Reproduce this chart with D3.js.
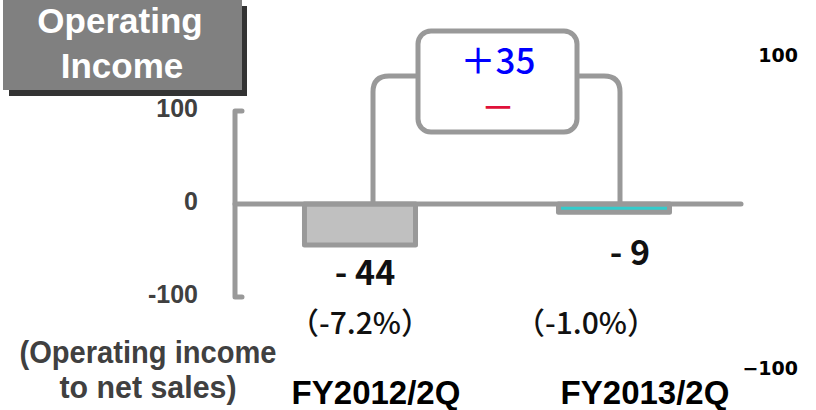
<!DOCTYPE html>
<html>
<head>
<meta charset="utf-8">
<script src="https://cdn.jsdelivr.net/npm/d3@7"></script>
<style>
  html, body { margin: 0; padding: 0; background: #fff; }
  svg { display: block; }
</style>
</head>
<body>
<svg id="chart" width="816" height="410"></svg>
<script>
// Operating income, half-year comparison
const categories = ["FY2012/2Q", "FY2013/2Q"];
const values = [-44, -9];
const valueLabels = ["- 44", "- 9"];
const ratioLabels = ["（-7.2%）", "（-1.0%）"];
const yTicks = [100, 0, -100];
const rightTicks = [100, -100];
const rightTickLabels = ["100", "−100"];
const changeLabel = "＋35";
const barFills = ["#c0c0c0", "#33cccc"];

const svg = d3.select("#chart");
const grey = "#999999";

// Scales
const y = d3.scaleLinear().domain([-100, 100]).range([297, 111]);
const x = d3.scaleBand().domain(categories).range([233, 741])
  .paddingInner(0.555).paddingOuter(0.2775);
const yRight = d3.scaleLinear().domain([-100, 100]).range([368, 55]);

// Title box with drop shadow
svg.append("rect").attr("x", 9).attr("y", 6).attr("width", 238).attr("height", 90).attr("fill", "#333333");
svg.append("rect").attr("x", 3).attr("y", -2).attr("width", 239).attr("height", 92).attr("fill", "#808080");
svg.append("text").attr("x", 120).attr("y", 33).attr("text-anchor", "middle")
  .attr("font-family", "Liberation Sans, Arial, sans-serif").attr("font-weight", "bold")
  .attr("font-size", 35).attr("fill", "#ffffff").text("Operating");
svg.append("text").attr("x", 122).attr("y", 78).attr("text-anchor", "middle")
  .attr("font-family", "Liberation Sans, Arial, sans-serif").attr("font-weight", "bold")
  .attr("font-size", 35).attr("fill", "#ffffff").text("Income");

// Left axis: bracket-shaped line with labels
const axisX = 235;
svg.append("path")
  .attr("d", `M${axisX + 7},${y(100)} H${axisX} V${y(-100)} H${axisX + 7}`)
  .attr("fill", "none").attr("stroke", grey).attr("stroke-width", 5)
  .attr("stroke-linejoin", "round").attr("stroke-linecap", "round");

svg.selectAll("text.ytick").data(yTicks).enter().append("text")
  .attr("class", "ytick")
  .attr("x", 198).attr("y", d => y(d) - 3)
  .attr("dy", "0.35em").attr("text-anchor", "end")
  .attr("font-family", "Liberation Sans, Arial, sans-serif").attr("font-weight", "bold")
  .attr("font-size", 25).attr("fill", "#404040")
  .text(d => d);

// Bars
svg.selectAll("rect.bar").data(values).enter().append("rect")
  .attr("class", "bar")
  .attr("x", (d, i) => x(categories[i]) + 1)
  .attr("width", x.bandwidth() - 2)
  .attr("y", d => y(Math.max(0, d)))
  .attr("height", d => Math.abs(y(d) - y(0)))
  .attr("fill", (d, i) => barFills[i])
  .attr("stroke", grey).attr("stroke-width", 5)
  .attr("stroke-linejoin", "round");

// Zero line
svg.append("line")
  .attr("x1", axisX).attr("x2", 741).attr("y1", y(0)).attr("y2", y(0))
  .attr("stroke", grey).attr("stroke-width", 5).attr("stroke-linecap", "round");

// Change bracket linking the two bars
const cx0 = x(categories[0]) + x.bandwidth() / 2 + 13;
const cx1 = x(categories[1]) + x.bandwidth() / 2 + 6;
const boxX0 = 418, boxX1 = 577, boxY0 = 31, boxY1 = 132;
const linkY = 76, r = 16;
svg.append("path")
  .attr("d", `M${cx0},${y(0)} V${linkY + r} Q${cx0},${linkY} ${cx0 + r},${linkY} H${boxX0}`)
  .attr("fill", "none").attr("stroke", grey).attr("stroke-width", 5);
svg.append("path")
  .attr("d", `M${boxX1},${linkY} H${cx1 - r} Q${cx1},${linkY} ${cx1},${linkY + r} V${y(0)}`)
  .attr("fill", "none").attr("stroke", grey).attr("stroke-width", 5);
svg.append("rect")
  .attr("x", boxX0).attr("y", boxY0).attr("width", boxX1 - boxX0).attr("height", boxY1 - boxY0)
  .attr("rx", 13).attr("ry", 13)
  .attr("fill", "#ffffff").attr("stroke", grey).attr("stroke-width", 5);
svg.append("text").attr("x", 498).attr("y", 74).attr("text-anchor", "middle")
  .attr("font-family", "Noto Sans CJK JP, Noto Sans, sans-serif").attr("font-weight", 500)
  .attr("font-size", 35).attr("fill", "#0000ff").text(changeLabel);
svg.append("text").attr("x", 498).attr("y", 108).attr("text-anchor", "middle")
  .attr("dy", "0.35em")
  .attr("font-family", "Noto Sans CJK JP, Noto Sans, sans-serif").attr("font-weight", 500)
  .attr("font-size", 34).attr("fill", "#e0103a").text("－");

// Value labels under the bars
const valueDx = [5, 16];
const valueY = [285, 265];
svg.selectAll("text.val").data(valueLabels).enter().append("text")
  .attr("class", "val")
  .attr("x", (d, i) => x(categories[i]) + x.bandwidth() / 2 + valueDx[i])
  .attr("y", (d, i) => valueY[i])
  .attr("text-anchor", "middle")
  .attr("font-family", "Noto Sans CJK JP, Noto Sans, sans-serif").attr("font-weight", "bold")
  .attr("font-size", 34).attr("fill", "#111111")
  .text(d => d);

// Ratio of operating income to net sales
const ratioDx = [0, -28];
svg.selectAll("text.ratio").data(ratioLabels).enter().append("text")
  .attr("class", "ratio")
  .attr("x", (d, i) => x(categories[i]) + x.bandwidth() / 2 + ratioDx[i])
  .attr("y", 334)
  .attr("text-anchor", "middle")
  .attr("font-family", "Noto Sans CJK JP, Noto Sans, sans-serif").attr("font-weight", 500)
  .attr("font-size", 30).attr("fill", "#111111")
  .text(d => d);

svg.append("text").attr("x", 148).attr("y", 363).attr("text-anchor", "middle")
  .attr("font-family", "Liberation Sans, Arial, sans-serif").attr("font-weight", "bold")
  .attr("font-size", 31).attr("fill", "#404040")
  .attr("textLength", 257).attr("lengthAdjust", "spacingAndGlyphs")
  .text("(Operating income");
svg.append("text").attr("x", 148).attr("y", 398).attr("text-anchor", "middle")
  .attr("font-family", "Liberation Sans, Arial, sans-serif").attr("font-weight", "bold")
  .attr("font-size", 31).attr("fill", "#404040")
  .attr("textLength", 177).attr("lengthAdjust", "spacingAndGlyphs")
  .text("to net sales)");

// Category labels
const catDx = [16, 31];
svg.selectAll("text.cat").data(categories).enter().append("text")
  .attr("class", "cat")
  .attr("x", (d, i) => x(d) + x.bandwidth() / 2 + catDx[i])
  .attr("y", 404)
  .attr("text-anchor", "middle")
  .attr("font-family", "Liberation Sans, Arial, sans-serif").attr("font-weight", "bold")
  .attr("font-size", 33).attr("fill", "#000000")
  .text(d => d);

// Secondary scale labels on the right
svg.selectAll("text.rtick").data(rightTicks).enter().append("text")
  .attr("class", "rtick")
  .attr("x", 798).attr("y", d => yRight(d))
  .attr("dy", "0.35em").attr("text-anchor", "end")
  .attr("font-family", "DejaVu Sans, sans-serif").attr("font-weight", "bold")
  .attr("font-size", 19).attr("fill", "#000000")
  .text((d, i) => rightTickLabels[i]);
</script>
</body>
</html>
